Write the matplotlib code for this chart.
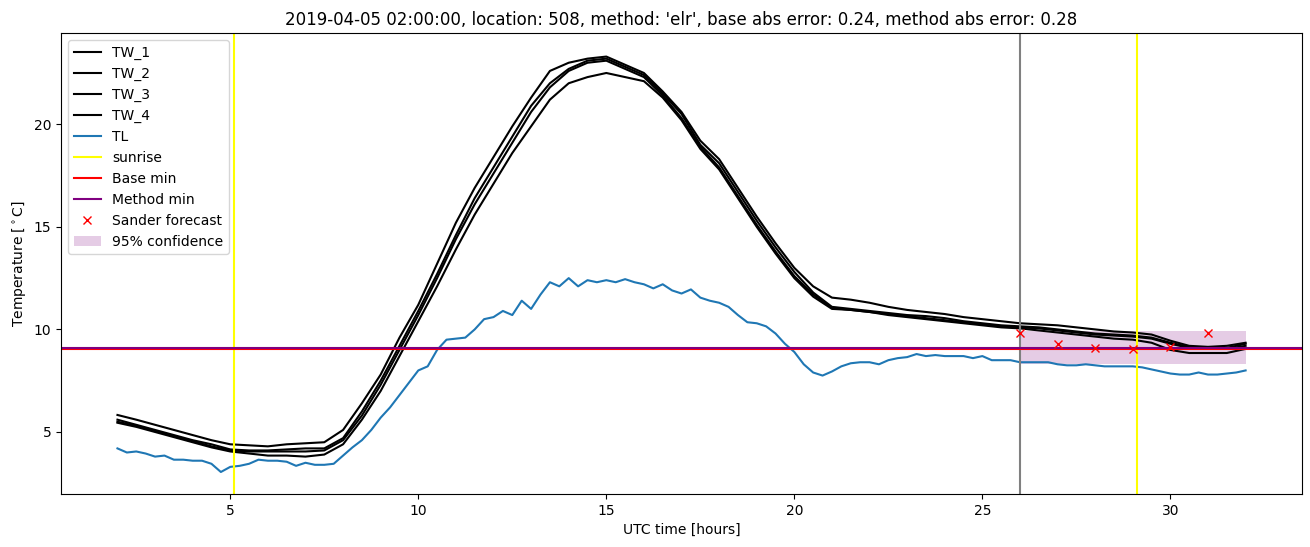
import numpy as np
import matplotlib.pyplot as plt
from matplotlib.ticker import MultipleLocator

# time axis (hours UTC, counted from midnight of the forecast day before)
hours = np.arange(2.0, 32.01, 0.5)
hours_tl = np.arange(2.0, 32.01, 0.25)

tw_1 = [5.83, 5.6, 5.35, 5.1, 4.85, 4.6, 4.4, 4.35, 4.3, 4.4, 4.45, 4.5, 5.1, 6.4, 7.8, 9.6,
        11.2, 13.2, 15.2, 16.9, 18.4, 19.9, 21.3, 22.6, 23.0, 23.2, 23.3, 22.9, 22.5, 21.6,
        20.6, 19.2, 18.3, 16.9, 15.5, 14.2, 13.0, 12.1, 11.55, 11.45, 11.3, 11.1, 10.95, 10.85,
        10.75, 10.6, 10.5, 10.4, 10.3, 10.25, 10.2, 10.1, 10.0, 9.9, 9.85, 9.75, 9.45, 9.2,
        9.15, 9.2, 9.35]
tw_2 = [5.6, 5.35, 5.1, 4.85, 4.6, 4.4, 4.15, 4.1, 4.1, 4.15, 4.2, 4.2, 4.7, 6.0, 7.5, 9.2,
        10.9, 12.7, 14.6, 16.4, 17.9, 19.4, 20.9, 22.0, 22.7, 23.1, 23.2, 22.8, 22.4, 21.5,
        20.5, 19.0, 18.1, 16.7, 15.3, 14.0, 12.8, 11.8, 11.1, 11.0, 10.9, 10.8, 10.7, 10.65,
        10.55, 10.4, 10.3, 10.2, 10.15, 10.1, 10.0, 9.9, 9.8, 9.75, 9.7, 9.6, 9.35, 9.15,
        9.1, 9.1, 9.3]
tw_3 = [5.5, 5.3, 5.05, 4.8, 4.55, 4.3, 4.1, 4.05, 4.05, 4.05, 4.05, 4.1, 4.6, 5.8, 7.3, 9.0,
        10.7, 12.5, 14.4, 16.1, 17.6, 19.1, 20.6, 21.8, 22.6, 23.0, 23.1, 22.7, 22.3, 21.4,
        20.3, 18.9, 17.9, 16.5, 15.1, 13.8, 12.6, 11.7, 11.05, 10.95, 10.85, 10.75, 10.65, 10.55,
        10.45, 10.35, 10.25, 10.15, 10.1, 10.05, 9.95, 9.85, 9.75, 9.7, 9.65, 9.55, 9.3, 9.1,
        9.05, 9.05, 9.2]
tw_4 = [5.45, 5.25, 5.0, 4.75, 4.5, 4.25, 4.05, 3.95, 3.85, 3.85, 3.8, 3.9, 4.4, 5.6, 7.0, 8.7,
        10.4, 12.1, 13.9, 15.6, 17.1, 18.6, 19.9, 21.2, 22.0, 22.3, 22.5, 22.3, 22.1, 21.3,
        20.2, 18.8, 17.8, 16.4, 15.0, 13.7, 12.5, 11.6, 11.0, 10.95, 10.85, 10.7, 10.6, 10.5,
        10.4, 10.3, 10.2, 10.1, 10.05, 9.95, 9.85, 9.75, 9.65, 9.55, 9.5, 9.35, 9.0, 8.85,
        8.85, 8.85, 9.05]
tl = [4.2, 4.0, 4.05, 3.95, 3.8, 3.85, 3.65, 3.65, 3.6, 3.6, 3.45, 3.05, 3.3, 3.35, 3.45, 3.65,
      3.6, 3.6, 3.55, 3.35, 3.5, 3.4, 3.4, 3.45, 3.85, 4.25, 4.6, 5.1, 5.7, 6.2, 6.8, 7.4,
      8.0, 8.2, 9.0, 9.5, 9.55, 9.6, 10.0, 10.5, 10.6, 10.9, 10.7, 11.4, 11.0, 11.7, 12.3, 12.1,
      12.5, 12.1, 12.4, 12.3, 12.4, 12.3, 12.45, 12.3, 12.2, 12.0, 12.2, 11.9, 11.75, 11.95, 11.55, 11.4,
      11.3, 11.1, 10.7, 10.35, 10.3, 10.15, 9.8, 9.3, 8.9, 8.3, 7.9, 7.75, 7.95, 8.2, 8.35, 8.4,
      8.4, 8.3, 8.5, 8.6, 8.65, 8.8, 8.7, 8.75, 8.7, 8.7, 8.7, 8.6, 8.7, 8.5, 8.5, 8.5,
      8.4, 8.4, 8.4, 8.4, 8.3, 8.25, 8.25, 8.3, 8.25, 8.2, 8.2, 8.2, 8.2, 8.15, 8.05, 7.95,
      7.85, 7.8, 7.8, 7.9, 7.8, 7.8, 7.85, 7.9, 8.0]

sunrise = [5.11, 29.12]
forecast_start = 26.0
base_min = 9.06
method_min = 9.09
sander_hours = [26, 27, 28, 29, 30, 31]
sander_temp = [9.82, 9.29, 9.1, 9.04, 9.13, 9.82]
conf_hours = [26, 32]
conf_low = 8.29
conf_high = 9.91

fig, ax = plt.subplots(figsize=(13.1, 5.47), dpi=100)
for name, vals in [('TW_1', tw_1), ('TW_2', tw_2), ('TW_3', tw_3), ('TW_4', tw_4)]:
    ax.plot(hours, vals, color='black', label=name)
ax.plot(hours_tl, tl, label='TL')
ax.axvline(sunrise[0], color='yellow', label='sunrise')
ax.axvline(sunrise[1], color='yellow')
ax.axvline(forecast_start, color='gray')
ax.axhline(base_min, color='red', label='Base min')
ax.axhline(method_min, color='purple', label='Method min')
ax.plot(sander_hours, sander_temp, 'rx', label='Sander forecast')
ax.fill_between(conf_hours, conf_low, conf_high, color='purple', alpha=0.2,
                linewidth=0, label='95% confidence')

ax.set_ylim(1.98, 24.45)
ax.yaxis.set_major_locator(MultipleLocator(5))
ax.set_title("2019-04-05 02:00:00, location: 508, method: 'elr', "
             "base abs error: 0.24, method abs error: 0.28")
ax.set_xlabel('UTC time [hours]')
ax.set_ylabel(r'Temperature [$^\circ$C]')
ax.legend(loc='upper left')
fig.subplots_adjust(left=0.0466, right=0.9939, bottom=0.097, top=0.9397)
fig.savefig('out.png')
